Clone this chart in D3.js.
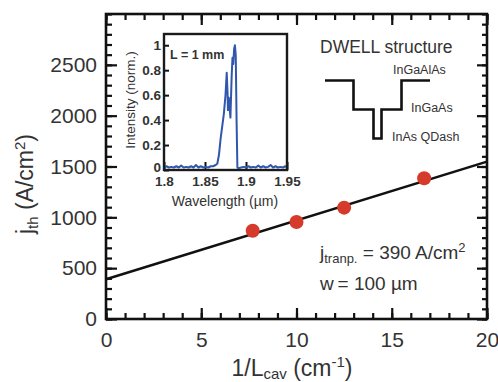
<!DOCTYPE html>
<html><head><meta charset="utf-8">
<script src="https://cdn.jsdelivr.net/npm/d3@7"></script>
<style>
body{margin:0;background:#fff;}
svg{display:block;font-family:"Liberation Sans",Arial,sans-serif;}
</style></head>
<body><svg id="c" width="498" height="382"></svg>
<script>
// Main data
const invL = [7.7, 10, 12.5, 16.7];
const jth = [868, 954, 1095, 1384];
const fitIntercept = 390;
const fitEnd = 1548; // value of fit line at x = 20
const xMajorTicks = [0, 5, 10, 15, 20];
const yMajorTicks = [0, 500, 1000, 1500, 2000, 2500];

// Inset spectrum (L = 1 mm)
const wavelength = [1.800,1.803,1.806,1.809,1.812,1.815,1.818,1.821,1.824,1.827,1.830,1.833,1.836,1.839,1.842,1.845,1.848,1.851,1.854,1.857,1.860,1.863,1.865,1.867,1.869,1.871,1.873,1.875,1.8765,1.8775,1.878,1.879,1.880,1.881,1.8825,1.8835,1.8845,1.8855,1.8865,1.8875,1.8885,1.8895,1.891,1.894,1.897,1.900,1.903,1.906,1.909,1.912,1.915,1.918,1.921,1.924,1.927,1.930,1.933,1.936,1.939,1.942,1.945,1.948,1.950];
const intensity = [0.02,0.03,0.02,0.025,0.02,0.03,0.02,0.035,0.02,0.025,0.02,0.03,0.02,0.04,0.02,0.03,0.02,0.025,0.02,0.03,0.03,0.04,0.05,0.12,0.25,0.35,0.45,0.60,0.78,0.62,0.48,0.58,0.50,0.42,0.75,0.90,0.85,0.97,1.00,0.92,0.40,0.02,0.015,0.02,0.025,0.02,0.03,0.02,0.025,0.02,0.035,0.02,0.03,0.02,0.025,0.04,0.02,0.03,0.02,0.025,0.02,0.03,0.02];
const insetXTicks = [1.8, 1.85, 1.9, 1.95];
const insetYTicks = [0, 0.2, 0.4, 0.6, 0.8, 1];

const svg = d3.select("#c");
const TXT = "#333";
const AX = "#111";

const x = d3.scaleLinear().domain([0, 20]).range([106, 487]);
const y = d3.scaleLinear().domain([0, 3000]).range([319, 14]);

function tickAxis(axisFn, scale, vals, size, translate, labels, pad, fs) {
  const a = axisFn(scale).tickValues(vals).tickSize(-size).tickPadding(pad||0);
  if (!labels) a.tickFormat(""); else a.tickFormat(d3.format("d"));
  const g = svg.append("g").attr("transform", translate).call(a);
  g.select(".domain").remove();
  g.selectAll(".tick line").attr("stroke", AX).attr("stroke-width", 2.2);
  g.selectAll(".tick text").attr("fill", TXT).style("font-size", (fs||21) + "px").attr("font-family", "Liberation Sans, Arial, sans-serif");
  return g;
}
const xMinor = d3.range(0, 21, 1);
const yMinor = d3.range(0, 3001, 100);
tickAxis(d3.axisBottom, x, xMinor, 6, "translate(0,319)", false);
tickAxis(d3.axisBottom, x, xMajorTicks, 11, "translate(0,319)", true, 13);
tickAxis(d3.axisTop, x, xMinor, 6, "translate(0,14)", false);
tickAxis(d3.axisTop, x, xMajorTicks, 11, "translate(0,14)", false);
tickAxis(d3.axisLeft, y, yMinor, 6, "translate(106,0)", false);
tickAxis(d3.axisLeft, y, yMajorTicks, 11, "translate(106,0)", true, 9);
tickAxis(d3.axisRight, y, yMinor, 5, "translate(487,0)", false);
tickAxis(d3.axisRight, y, yMajorTicks, 10, "translate(487,0)", false);

// frame
svg.append("rect").attr("x", x(0)).attr("y", y(3000)).attr("width", x(20)-x(0)).attr("height", y(0)-y(3000))
  .attr("fill", "none").attr("stroke", AX).attr("stroke-width", 2.6);

// fit line
svg.append("line").attr("x1", x(0)).attr("y1", y(fitIntercept)).attr("x2", x(20)).attr("y2", y(fitEnd))
  .attr("stroke", AX).attr("stroke-width", 2.6);

// points
svg.selectAll("circle.pt").data(invL).enter().append("circle")
  .attr("cx", d => x(d)).attr("cy", (d, i) => y(jth[i])).attr("r", 7)
  .attr("fill", "#d63a2b");

// axis labels
const yl = svg.append("text").attr("transform", "translate(33,184) rotate(-90)")
  .attr("text-anchor", "middle").attr("fill", TXT).style("font-size", "23px");
yl.append("tspan").text("j");
yl.append("tspan").text("th").style("font-size", "15px").attr("dy", 5);
yl.append("tspan").text(" (A/cm").attr("dy", -5);
yl.append("tspan").text("2").style("font-size", "15px").attr("dy", -8);
yl.append("tspan").text(")").attr("dy", 8);

const xl = svg.append("text").attr("x", 292).attr("y", 376)
  .attr("text-anchor", "middle").attr("fill", TXT).style("font-size", "23px");
xl.append("tspan").text("1/L");
xl.append("tspan").text("cav").style("font-size", "15px").attr("dy", 3);
xl.append("tspan").text(" (cm").attr("dy", -3);
xl.append("tspan").text("-1").style("font-size", "15px").attr("dy", -9);
xl.append("tspan").text(")").attr("dy", 9);

// annotations
const t1 = svg.append("text").attr("x", 320).attr("y", 259).attr("fill", TXT).style("font-size", "19px");
t1.append("tspan").text("j");
t1.append("tspan").text("tranp.").style("font-size", "13px").attr("dy", 4);
t1.append("tspan").text(" = 390 A/cm").attr("dy", -4);
t1.append("tspan").text("2").style("font-size", "13px").attr("dy", -7);
svg.append("text").attr("x", 320).attr("y", 290).attr("fill", TXT).style("font-size", "19px").text("w\u2009= 100 \u00b5m");

svg.append("text").attr("x", 320).attr("y", 53).attr("fill", TXT).style("font-size", "17.5px").text("DWELL structure");
svg.append("text").attr("x", 393).attr("y", 74).attr("fill", TXT).style("font-size", "12.5px").text("InGaAlAs");
svg.append("text").attr("x", 411).attr("y", 112).attr("fill", TXT).style("font-size", "12.5px").text("InGaAs");
svg.append("text").attr("x", 392).attr("y", 141).attr("fill", TXT).style("font-size", "12.5px").text("InAs QDash");
svg.append("path")
  .attr("d", "M325,80.5 H353.5 V109.5 H373.5 V138.5 H381.5 V109.5 H401.5 V80.5 H430")
  .attr("fill", "none").attr("stroke", AX).attr("stroke-width", 2.6);

// inset
const ix = d3.scaleLinear().domain([1.8, 1.95]).range([164, 287]);
const iy = d3.scaleLinear().domain([0, 1.09]).range([170, 34]);
svg.append("rect").attr("x", 164).attr("y", 34).attr("width", 123).attr("height", 136).attr("fill", "#fff");
const ig = svg.append("g");
const iyAx = d3.axisLeft(iy).tickValues(insetYTicks).tickSize(-5).tickPadding(3).tickFormat(d3.format("~g"));
const gy = ig.append("g").attr("transform", "translate(164,0)").call(iyAx);
const ixAx = d3.axisBottom(ix).tickValues(insetXTicks).tickSize(-8).tickPadding(6).tickFormat(d3.format("~g"));
const gx = ig.append("g").attr("transform", "translate(0,170)").call(ixAx);
[gy, gx].forEach(g => {
  g.select(".domain").remove();
  g.selectAll(".tick line").attr("stroke", AX).attr("stroke-width", 2);
  g.selectAll(".tick text").attr("fill", TXT).style("font-size", "13.5px").style("font-weight", "bold").attr("font-family", "Liberation Sans, Arial, sans-serif");
});
gy.selectAll(".tick text").filter(d => d === 0).attr("dy", "0.1em");
const line = d3.line().x((d, i) => ix(wavelength[i])).y(d => iy(d));
ig.append("path").datum(intensity).attr("d", line).attr("fill", "none").attr("stroke", "#3057ad").attr("stroke-width", 2).attr("stroke-linejoin", "round");
ig.append("rect").attr("x", 164).attr("y", 34).attr("width", 123).attr("height", 136)
  .attr("fill", "none").attr("stroke", "#1a1a1a").attr("stroke-width", 2.4);
ig.append("text").attr("x", 170).attr("y", 59).attr("fill", TXT).style("font-size", "12.5px").style("font-weight", "bold").text("L = 1 mm");
ig.append("text").attr("x", 225).attr("y", 206).attr("text-anchor", "middle").attr("fill", TXT).style("font-size", "14px").text("Wavelength (\u00b5m)");
ig.append("text").attr("transform", "translate(135,100) rotate(-90)").attr("text-anchor", "middle").attr("fill", TXT).style("font-size", "13.5px").text("Intensity (norm.)");
</script></body></html>
